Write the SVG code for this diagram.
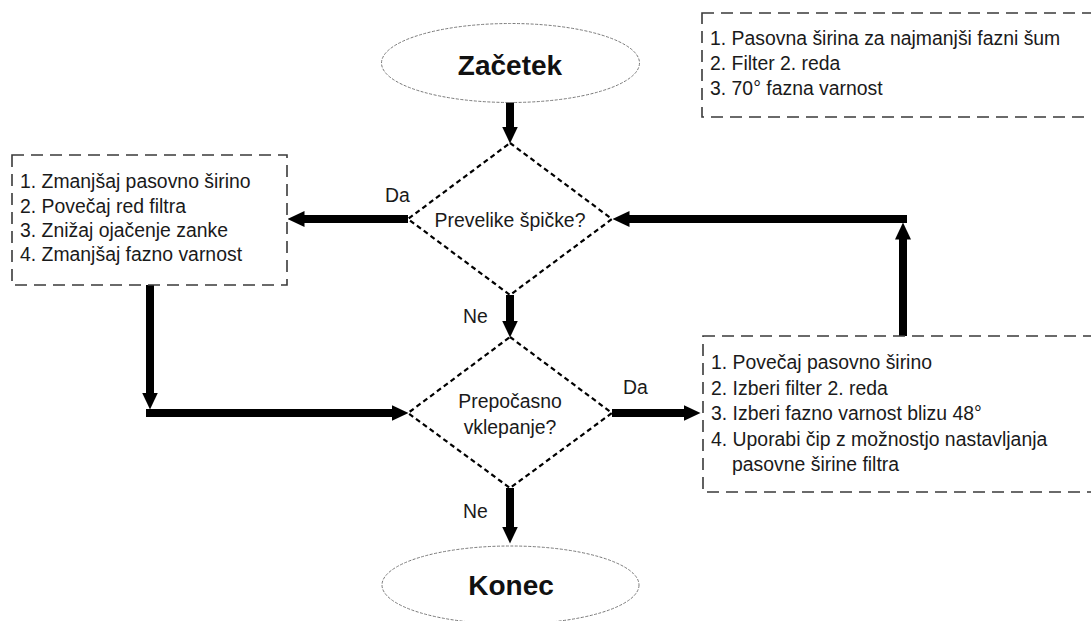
<svg xmlns="http://www.w3.org/2000/svg" width="1091" height="621" viewBox="0 0 1091 621">
  <style>
    text { font-family: "Liberation Sans", Arial, sans-serif; fill: #1a1a1a; }
    .t { font-size: 19.4px; }
    .title { font-size: 28px; font-weight: bold; text-anchor: middle; fill: #111; }
    .mid { text-anchor: middle; }
    .term { fill: #fff; stroke: #7a7a7a; stroke-width: 1; stroke-dasharray: 3 1.5; }
    .dec { fill: #fff; stroke: #000; stroke-width: 2.2; stroke-dasharray: 5 3.5; }
    .note { fill: #fff; stroke: #3a3a3a; stroke-width: 1.6; stroke-dasharray: 12 7; }
    .flow { fill: none; stroke: #000; stroke-width: 8; marker-end: url(#head); }
  </style>
  <defs>
    <marker id="head" markerUnits="userSpaceOnUse" viewBox="0 0 17 16" refX="0.5" refY="8" markerWidth="17" markerHeight="16" orient="auto">
      <path d="M0,0 L17,8 L0,16 z" fill="#000"/>
    </marker>
  </defs>

  <rect width="1091" height="621" fill="#fff"/>

  <!-- connectors -->
  <g id="connectors">
    <line class="flow" x1="510" y1="102" x2="510" y2="127"/>
    <line class="flow" x1="408" y1="219" x2="304" y2="219"/>
    <line class="flow" x1="510" y1="295" x2="510" y2="321"/>
    <line class="flow" x1="150" y1="285" x2="150" y2="393"/>
    <line class="flow" x1="146" y1="413" x2="392" y2="413"/>
    <line class="flow" x1="612" y1="413" x2="684" y2="413"/>
    <line class="flow" x1="903" y1="337" x2="903" y2="239"/>
    <line class="flow" x1="907" y1="219" x2="629" y2="219"/>
    <line class="flow" x1="510" y1="488" x2="510" y2="527"/>
    <text class="t" x="385" y="202">Da</text>
    <text class="t" x="463" y="323">Ne</text>
    <text class="t" x="623" y="394">Da</text>
    <text class="t" x="463" y="518">Ne</text>
  </g>

  <g id="start">
    <ellipse class="term" cx="510.5" cy="63" rx="129" ry="39.5"/>
    <text class="title" x="510" y="75">Začetek</text>
  </g>

  <g id="spikes">
    <polygon class="dec" points="510,143 612,219 510,295 408,219"/>
    <text class="t mid" x="510" y="227">Prevelike špičke?</text>
  </g>

  <g id="lock">
    <polygon class="dec" points="510,337 612,413 510,488 408,413"/>
    <text class="t mid" x="510" y="408">Prepočasno</text>
    <text class="t mid" x="510" y="434">vklepanje?</text>
  </g>

  <g id="end">
    <ellipse class="term" cx="510.5" cy="585" rx="128.5" ry="39"/>
    <text class="title" x="511" y="595">Konec</text>
  </g>

  <!-- the two right-hand notes run past the right edge -->
  <g id="defaults">
    <rect class="note" x="702" y="13" width="500" height="104"/>
    <text class="t" x="710" y="45">1. Pasovna širina za najmanjši fazni šum</text>
    <text class="t" x="710" y="70">2. Filter 2. reda</text>
    <text class="t" x="710" y="95">3. 70° fazna varnost</text>
  </g>

  <g id="reduce">
    <rect class="note" x="12" y="155" width="275" height="130"/>
    <text class="t" x="20" y="188">1. Zmanjšaj pasovno širino</text>
    <text class="t" x="20" y="212.5">2. Povečaj red filtra</text>
    <text class="t" x="20" y="237">3. Znižaj ojačenje zanke</text>
    <text class="t" x="20" y="261">4. Zmanjšaj fazno varnost</text>
  </g>

  <g id="speedup">
    <rect class="note" x="703" y="336" width="500" height="156"/>
    <text class="t" x="711" y="369">1. Povečaj pasovno širino</text>
    <text class="t" x="711" y="394.5">2. Izberi filter 2. reda</text>
    <text class="t" x="711" y="420">3. Izberi fazno varnost blizu 48°</text>
    <text class="t" x="711" y="445.5">4. Uporabi čip z možnostjo nastavljanja</text>
    <text class="t" x="732" y="471">pasovne širine filtra</text>
  </g>
</svg>
